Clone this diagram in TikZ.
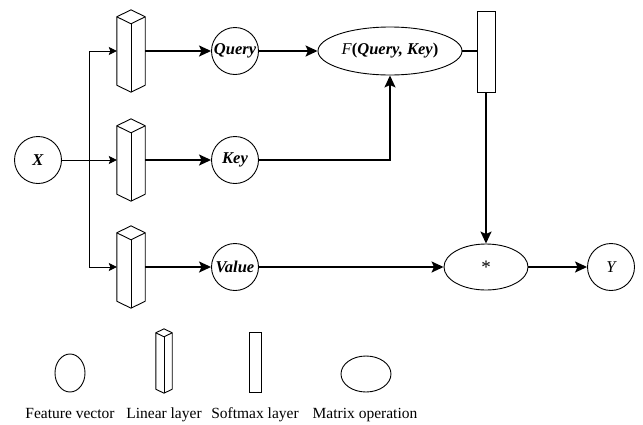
\documentclass[tikz,border=0pt]{standalone}
\usepackage{fontspec}
\setmainfont{Liberation Serif}
\usetikzlibrary{shapes.geometric, arrows.meta, positioning, calc}

% linear layer: name, x, y, half width, half height, top offset
\newcommand{\linlayer}[6]{%
    \node[inner sep=0pt, minimum width={2*#4}, minimum height={2*#5}] (#1) at (#2,#3) {};
    \draw[line width=0.9pt, line join=round] ($(#1.north west)+(0,#6)$) -- (#1.north) -- ($(#1.north east)+(0,#6)$)
        -- ($(#1.south east)+(0,-#6)$) -- (#1.south) -- ($(#1.south west)+(0,-#6)$) -- cycle;
    \draw[line width=0.9pt, line join=round] ($(#1.north west)+(0,#6)$) -- ($(#1.north)+(0,2*#6)$) -- ($(#1.north east)+(0,#6)$);
    \draw[line width=0.9pt] ($(#1.north)+(0,2*#6)$) -- (#1.south);
}

\begin{document}
\begin{tikzpicture}[x=1pt, y=-1pt,
    vec/.style={circle, draw, line width=0.9pt, minimum size=47pt, inner sep=0pt,
                font=\fontsize{16.5}{19}\selectfont\bfseries\itshape},
    op/.style={ellipse, draw, line width=0.9pt, inner sep=0pt,
               font=\fontsize{16.5}{19}\selectfont},
    smax/.style={rectangle, draw, line width=0.9pt, inner sep=0pt},
    thickarrow/.style={line width=1.7pt, -{Stealth[length=12pt, width=11pt, inset=2.5pt]}},
    thinarrow/.style={line width=0.9pt, -{Stealth[length=8pt, width=8pt, inset=1.5pt]}},
    legend/.style={anchor=base, font=\fontsize{15.5}{18}\selectfont}]

    \useasboundingbox (0,0) rectangle (643,424);

    % Input and linear layers
    \node[vec] (X) at (38,160) {X};
    \linlayer{L1}{131}{51}{14}{41}{7}
    \linlayer{L2}{131}{160}{14}{41}{7}
    \linlayer{L3}{131}{267}{14}{41}{7}

    % Query, Key, Value
    \node[vec] (Q) at (235,51) {Query};
    \node[vec] (K) at (235,160) {Key};
    \node[vec] (V) at (235,267) {Value};

    % Score, softmax, product, output
    \node[op, minimum width=144pt, minimum height=48pt] (F) at (390,51)
        {\textit{F}\textbf{(\textit{Query, Key})}};
    \node[smax, minimum width=18pt, minimum height=81pt] (S) at (486,52) {};
    \node[op, minimum width=84pt, minimum height=46pt, font=\fontsize{19}{22}\selectfont] (M) at (486,267) {*};
    \node[vec, font=\fontsize{16.5}{19}\selectfont\itshape] (Y) at (611,267) {Y};

    % Connections
    \coordinate (split) at (89,160);
    \draw[thinarrow] (X) -- (L2.west);
    \draw[thinarrow] (split) |- (L1.west);
    \draw[thinarrow] (split) |- (L3.west);
    \draw[thickarrow] (L1.east) -- (Q);
    \draw[thickarrow] (L2.east) -- (K);
    \draw[thickarrow] (L3.east) -- (V);
    \draw[thickarrow] (Q) -- (F);
    \draw[thickarrow] (K) -| (F.south);
    \draw[line width=1.7pt] (F) -- (F -| S.west);
    \draw[thickarrow] (S) -- (M);
    \draw[thickarrow] (V) -- (M);
    \draw[thickarrow] (M) -- (Y);

    % Legend
    \node[ellipse, draw, line width=0.9pt, inner sep=0pt, minimum width=30pt, minimum height=38pt] (lgVec) at (70,373) {};
    \linlayer{lgLin}{164}{361}{8}{32}{4}
    \node[smax, minimum width=12pt, minimum height=60pt] (lgSmax) at (255,362) {};
    \node[op, minimum width=50pt, minimum height=36pt] (lgOp) at (366,374) {};
    \node[legend] (txVec) at (70,418) {Feature vector};
    \node[legend] (txLin) at (164,418) {Linear layer};
    \node[legend] (txSmax) at (255,418) {Softmax layer};
    \node[legend] (txOp) at (365,418) {Matrix operation};
\end{tikzpicture}
\end{document}
